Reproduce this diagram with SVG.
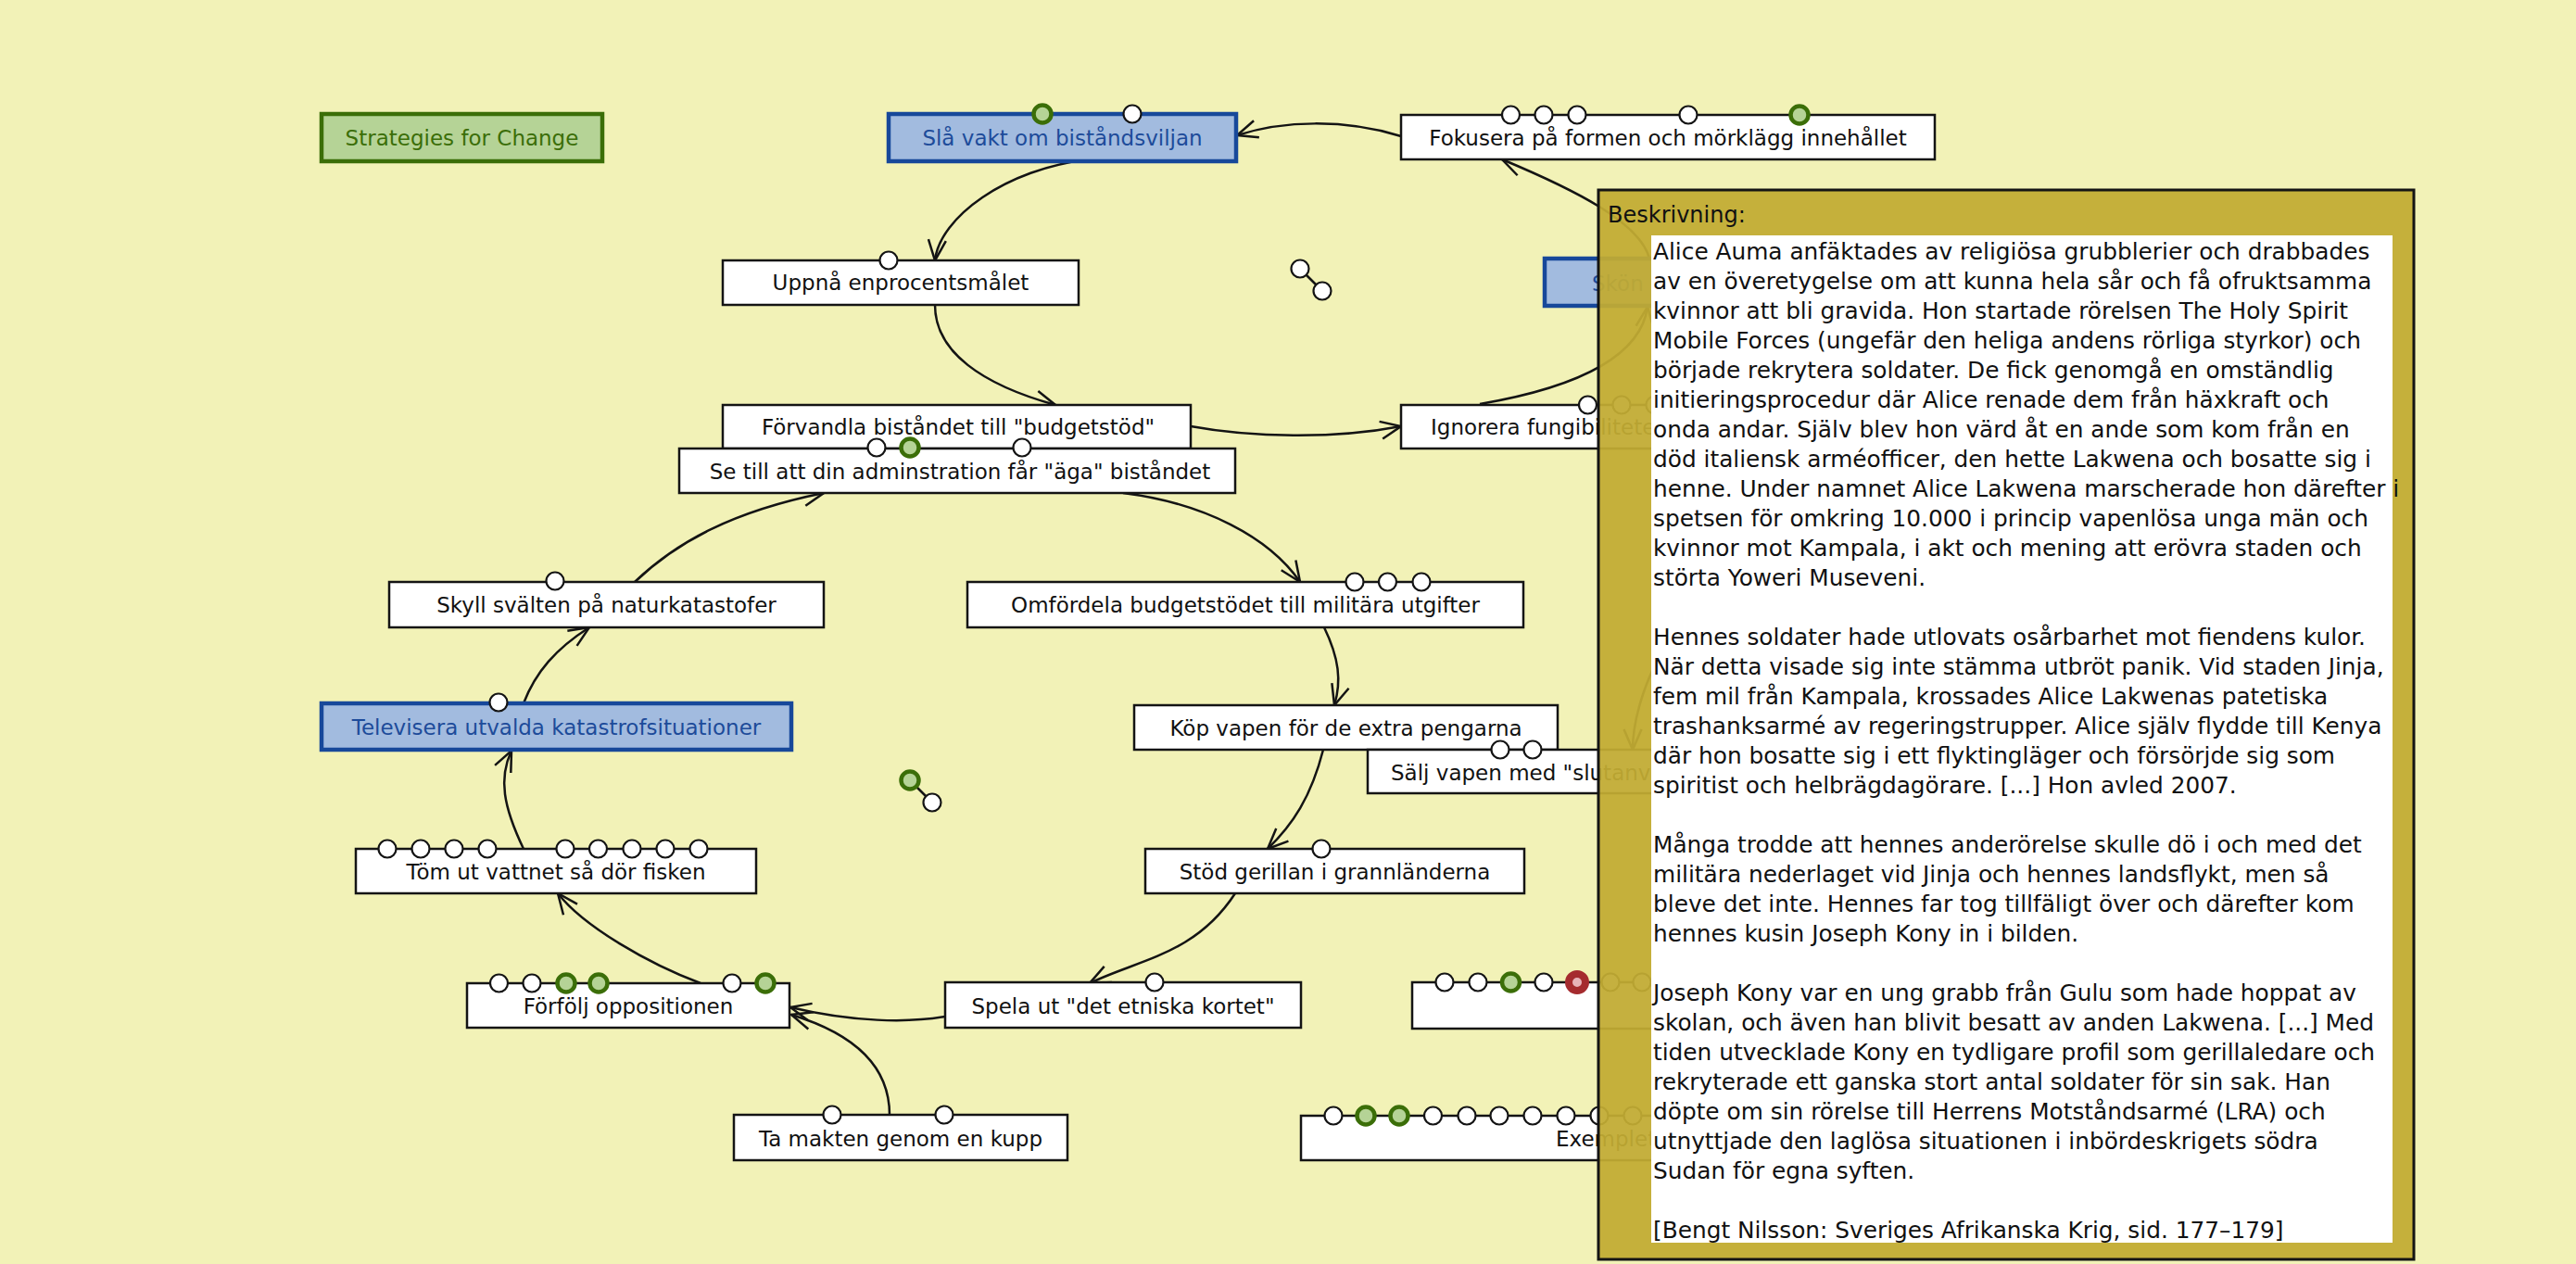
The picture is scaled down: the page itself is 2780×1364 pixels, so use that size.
<svg xmlns="http://www.w3.org/2000/svg" width="2780" height="1364" viewBox="0 0 2780 1364">
<defs>
<style>
.bg{fill:#f2f2b7}
.box{fill:#ffffff;stroke:#141414;stroke-width:2.5}
.gbox{fill:#b5d396;stroke:#3b6e08;stroke-width:4.5}
.bbox{fill:#a2bbdf;stroke:#17489a;stroke-width:4.5}
.lbl{font-family:"DejaVu Sans","Liberation Sans",sans-serif;font-size:23px;fill:#111;text-anchor:middle}
.glbl{fill:#3b6e08}
.blbl{fill:#1d4b9a}
.cw{fill:#ffffff;stroke:#141414;stroke-width:2.2}
.cg{fill:#b5d396;stroke:#3b6e08;stroke-width:4.5}
.cr{fill:#e7b3b8;stroke:#a52b2e;stroke-width:8}
.edge{fill:none;stroke:#141414;stroke-width:2.5}
.ptxt{font-family:"DejaVu Sans","Liberation Sans",sans-serif;font-size:24.8px;fill:#111}
</style>
<marker id="arr" markerUnits="userSpaceOnUse" markerWidth="30" markerHeight="30" refX="0" refY="0" viewBox="-25 -15 30 30" orient="auto" overflow="visible">
<path d="M-22,-9.5 L0,0 L-22,9.5" fill="none" stroke="#141414" stroke-width="2.5"/>
</marker>
</defs>
<rect class="bg" x="0" y="0" width="2780" height="1364"/>

<g id="connectors">
<path class="edge" marker-end="url(#arr)" d="M1512,147 C1450,128 1385,130 1335,146"/>
<path class="edge" marker-end="url(#arr)" d="M1176,172 C1085,182 1014,235 1009,281"/>
<path class="edge" marker-end="url(#arr)" d="M1009,329 C1009,380 1060,415 1139,437"/>
<path class="edge" marker-end="url(#arr)" d="M1285,460 C1350,472 1440,474 1512,460"/>
<path class="edge" marker-end="url(#arr)" d="M1597,436 C1690,420 1770,390 1778,331"/>
<path class="edge" marker-end="url(#arr)" d="M1780,279 C1770,240 1700,205 1621,172"/>
<path class="edge" marker-end="url(#arr)" d="M1212,532 C1300,543 1370,580 1403,628"/>
<path class="edge" marker-end="url(#arr)" d="M1429,677 C1445,710 1448,735 1440,761"/>
<path class="edge" marker-end="url(#arr)" d="M1800,690 C1780,725 1762,770 1762,809"/>
<path class="edge" marker-end="url(#arr)" d="M1428,809 C1415,860 1395,890 1368,916"/>
<path class="edge" marker-end="url(#arr)" d="M1333,964 C1290,1030 1230,1035 1176,1061"/>
<path class="edge" marker-end="url(#arr)" d="M1020,1097 C980,1104 920,1103 853,1087"/>
<path class="edge" marker-end="url(#arr)" d="M960,1203 C960,1150 920,1115 854,1095"/>
<path class="edge" marker-end="url(#arr)" d="M756,1061 C700,1040 630,1000 602,964"/>
<path class="edge" marker-end="url(#arr)" d="M565,916 C543,870 538,840 552,810"/>
<path class="edge" marker-end="url(#arr)" d="M565,759 C578,725 600,700 636,677"/>
<path class="edge" marker-end="url(#arr)" d="M685,628 C730,585 790,552 889,532"/>
<line class="edge" x1="1403" y1="290" x2="1427" y2="314"/>
<line class="edge" x1="982" y1="842" x2="1006" y2="866"/>
</g>

<g id="node-strategies">
<rect class="gbox" x="347" y="123" width="303" height="51"/>
<text class="lbl glbl" x="498.5" y="157">Strategies for Change</text>
</g>

<g id="node-slavakt">
<rect class="bbox" x="959" y="123" width="375" height="51"/>
<text class="lbl blbl" x="1146.5" y="157">Slå vakt om biståndsviljan</text>
<circle class="cg" cx="1125" cy="123" r="9.5"/>
<circle class="cw" cx="1222" cy="123" r="9.5"/>
</g>

<g id="node-fokusera">
<rect class="box" x="1512" y="124" width="576" height="48"/>
<text class="lbl" x="1800" y="157">Fokusera på formen och mörklägg innehållet</text>
<circle class="cw" cx="1630.5" cy="124" r="9.5"/>
<circle class="cw" cx="1666" cy="124" r="9.5"/>
<circle class="cw" cx="1702" cy="124" r="9.5"/>
<circle class="cw" cx="1822" cy="124" r="9.5"/>
<circle class="cg" cx="1942" cy="124" r="9.5"/>
</g>

<g id="node-uppna">
<rect class="box" x="780" y="281" width="384" height="48"/>
<text class="lbl" x="972" y="313">Uppnå enprocentsmålet</text>
<circle class="cw" cx="959" cy="281" r="9.5"/>
</g>

<g id="node-skon">
<rect class="bbox" x="1667" y="279" width="260" height="51"/>
<text class="lbl blbl" x="1718" y="314" style="text-anchor:start">Skön</text>
</g>

<g id="node-ignorera">
<rect class="box" x="1512" y="437" width="390" height="47"/>
<text class="lbl" x="1544" y="469" style="text-anchor:start">Ignorera  fungibiliteten</text>
<circle class="cw" cx="1713.5" cy="437" r="9.5"/>
<circle class="cw" cx="1750" cy="437" r="9.5"/>
<circle class="cw" cx="1786" cy="437" r="9.5"/>
</g>

<g id="node-forvandla">
<rect class="box" x="780" y="437" width="505" height="47"/>
<text class="lbl" x="1034" y="469">Förvandla biståndet till "budgetstöd"</text>
</g>

<g id="node-setill">
<rect class="box" x="733" y="484" width="600" height="48"/>
<text class="lbl" x="1036" y="517">Se till att din adminstration får "äga" biståndet</text>
<circle class="cw" cx="946" cy="483" r="9.5"/>
<circle class="cg" cx="982" cy="483" r="9.5"/>
<circle class="cw" cx="1103" cy="483" r="9.5"/>
</g>

<g id="node-skyll">
<rect class="box" x="420" y="628" width="469" height="49"/>
<text class="lbl" x="654.5" y="661">Skyll svälten på naturkatastofer</text>
<circle class="cw" cx="599" cy="627" r="9.5"/>
</g>

<g id="node-omfordela">
<rect class="box" x="1044" y="628" width="600" height="49"/>
<text class="lbl" x="1344" y="661">Omfördela budgetstödet till militära utgifter</text>
<circle class="cw" cx="1462" cy="628" r="9.5"/>
<circle class="cw" cx="1497.5" cy="628" r="9.5"/>
<circle class="cw" cx="1534" cy="628" r="9.5"/>
</g>

<g id="node-televisera">
<rect class="bbox" x="347" y="759" width="507" height="50"/>
<text class="lbl blbl" x="600.5" y="793">Televisera utvalda katastrofsituationer</text>
<circle class="cw" cx="538" cy="758" r="9.5"/>
</g>

<g id="node-kop">
<rect class="box" x="1224" y="761" width="457" height="48"/>
<text class="lbl" x="1452.5" y="794">Köp vapen för de extra pengarna</text>
</g>

<g id="node-salj">
<rect class="box" x="1476" y="809" width="430" height="47"/>
<text class="lbl" x="1501" y="842" style="text-anchor:start">Sälj vapen med "slutanvändarintyg"</text>
<circle class="cw" cx="1619" cy="809" r="9.5"/>
<circle class="cw" cx="1654" cy="809" r="9.5"/>
</g>

<g id="node-tomut">
<rect class="box" x="384" y="916" width="432" height="48"/>
<text class="lbl" x="600" y="949">Töm ut vattnet så dör fisken</text>
<circle class="cw" cx="418" cy="916" r="9.5"/>
<circle class="cw" cx="454" cy="916" r="9.5"/>
<circle class="cw" cx="490" cy="916" r="9.5"/>
<circle class="cw" cx="526" cy="916" r="9.5"/>
<circle class="cw" cx="610" cy="916" r="9.5"/>
<circle class="cw" cx="645.5" cy="916" r="9.5"/>
<circle class="cw" cx="682" cy="916" r="9.5"/>
<circle class="cw" cx="718" cy="916" r="9.5"/>
<circle class="cw" cx="754" cy="916" r="9.5"/>
</g>

<g id="node-stod">
<rect class="box" x="1236" y="916" width="409" height="48"/>
<text class="lbl" x="1440.5" y="949">Stöd gerillan i grannländerna</text>
<circle class="cw" cx="1426" cy="916" r="9.5"/>
</g>

<g id="node-forfolj">
<rect class="box" x="504" y="1061" width="348" height="48"/>
<text class="lbl" x="678" y="1094">Förfölj oppositionen</text>
<circle class="cw" cx="538.5" cy="1061" r="9.5"/>
<circle class="cw" cx="574" cy="1061" r="9.5"/>
<circle class="cg" cx="611" cy="1061" r="9.5"/>
<circle class="cg" cx="646" cy="1061" r="9.5"/>
<circle class="cw" cx="790" cy="1061" r="9.5"/>
<circle class="cg" cx="826" cy="1061" r="9.5"/>
</g>

<g id="node-spela">
<rect class="box" x="1020" y="1060" width="384" height="49"/>
<text class="lbl" x="1212" y="1094">Spela ut "det etniska kortet"</text>
<circle class="cw" cx="1246" cy="1060" r="9.5"/>
</g>

<g id="node-lower1">
<rect class="box" x="1524" y="1060" width="380" height="50"/>
<circle class="cw" cx="1559" cy="1060" r="9.5"/>
<circle class="cw" cx="1595" cy="1060" r="9.5"/>
<circle class="cg" cx="1630.5" cy="1060" r="9.5"/>
<circle class="cw" cx="1666" cy="1060" r="9.5"/>
<circle class="cr" cx="1702" cy="1060" r="9"/>
<circle class="cw" cx="1738" cy="1060" r="9.5"/>
<circle class="cw" cx="1772" cy="1060" r="9.5"/>
</g>

<g id="node-tamakten">
<rect class="box" x="792" y="1203" width="360" height="49"/>
<text class="lbl" x="972" y="1237">Ta makten genom en kupp</text>
<circle class="cw" cx="898" cy="1203" r="9.5"/>
<circle class="cw" cx="1019" cy="1203" r="9.5"/>
</g>

<g id="node-exempel">
<rect class="box" x="1404" y="1204" width="600" height="48"/>
<text class="lbl" x="1679" y="1237" style="text-anchor:start">Exemplet</text>
<circle class="cw" cx="1439" cy="1204" r="9.5"/>
<circle class="cg" cx="1474" cy="1204" r="9.5"/>
<circle class="cg" cx="1510" cy="1204" r="9.5"/>
<circle class="cw" cx="1546.5" cy="1204" r="9.5"/>
<circle class="cw" cx="1583" cy="1204" r="9.5"/>
<circle class="cw" cx="1618" cy="1204" r="9.5"/>
<circle class="cw" cx="1654" cy="1204" r="9.5"/>
<circle class="cw" cx="1690" cy="1204" r="9.5"/>
<circle class="cw" cx="1726" cy="1204" r="9.5"/>
<circle class="cw" cx="1762" cy="1204" r="9.5"/>
</g>

<g id="node-float1">
<circle class="cw" cx="1403" cy="290" r="9.5"/>
<circle class="cw" cx="1427" cy="314" r="9.5"/>
</g>
<g id="node-float2">
<circle class="cg" cx="982" cy="842" r="9.5"/>
<circle class="cw" cx="1006" cy="866" r="9.5"/>
</g>

<g id="panel-beskrivning">
<rect x="1725" y="205" width="880" height="1154" fill="#c1ab33" fill-opacity="0.94" stroke="#141414" stroke-width="3"/>
<text class="ptxt" x="1735" y="240" style="font-size:24px">Beskrivning:</text>
<rect x="1782" y="254" width="800" height="1087" fill="#ffffff"/>
<text class="ptxt">
<tspan x="1784" y="280">Alice Auma anfäktades av religiösa grubblerier och drabbades</tspan>
<tspan x="1784" y="312">av en överetygelse om att kunna hela sår och få ofruktsamma</tspan>
<tspan x="1784" y="344">kvinnor att bli gravida. Hon startade rörelsen The Holy Spirit</tspan>
<tspan x="1784" y="376">Mobile Forces (ungefär den heliga andens rörliga styrkor) och</tspan>
<tspan x="1784" y="408">började rekrytera soldater. De fick genomgå en omständlig</tspan>
<tspan x="1784" y="440">initieringsprocedur där Alice renade dem från häxkraft och</tspan>
<tspan x="1784" y="472">onda andar. Själv blev hon värd åt en ande som kom från en</tspan>
<tspan x="1784" y="504">död italiensk arméofficer, den hette Lakwena och bosatte sig i</tspan>
<tspan x="1784" y="536">henne. Under namnet Alice Lakwena marscherade hon därefter i</tspan>
<tspan x="1784" y="568">spetsen för omkring 10.000 i princip vapenlösa unga män och</tspan>
<tspan x="1784" y="600">kvinnor mot Kampala, i akt och mening att erövra staden och</tspan>
<tspan x="1784" y="632">störta Yoweri Museveni.</tspan>
<tspan x="1784" y="696">Hennes soldater hade utlovats osårbarhet mot fiendens kulor.</tspan>
<tspan x="1784" y="728">När detta visade sig inte stämma utbröt panik. Vid staden Jinja,</tspan>
<tspan x="1784" y="760">fem mil från Kampala, krossades Alice Lakwenas patetiska</tspan>
<tspan x="1784" y="792">trashanksarmé av regeringstrupper. Alice själv flydde till Kenya</tspan>
<tspan x="1784" y="824">där hon bosatte sig i ett flyktingläger och försörjde sig som</tspan>
<tspan x="1784" y="856">spiritist och helbrägdagörare. [...] Hon avled 2007.</tspan>
<tspan x="1784" y="920">Många trodde att hennes anderörelse skulle dö i och med det</tspan>
<tspan x="1784" y="952">militära nederlaget vid Jinja och hennes landsflykt, men så</tspan>
<tspan x="1784" y="984">bleve det inte. Hennes far tog tillfäligt över och därefter kom</tspan>
<tspan x="1784" y="1016">hennes kusin Joseph Kony in i bilden.</tspan>
<tspan x="1784" y="1080">Joseph Kony var en ung grabb från Gulu som hade hoppat av</tspan>
<tspan x="1784" y="1112">skolan, och även han blivit besatt av anden Lakwena. [...] Med</tspan>
<tspan x="1784" y="1144">tiden utvecklade Kony en tydligare profil som gerillaledare och</tspan>
<tspan x="1784" y="1176">rekryterade ett ganska stort antal soldater för sin sak. Han</tspan>
<tspan x="1784" y="1208">döpte om sin rörelse till Herrens Motståndsarmé (LRA) och</tspan>
<tspan x="1784" y="1240">utnyttjade den laglösa situationen i inbördeskrigets södra</tspan>
<tspan x="1784" y="1272">Sudan för egna syften.</tspan>
<tspan x="1784" y="1336">[Bengt Nilsson: Sveriges Afrikanska Krig, sid. 177–179]</tspan>
</text>
</g>
</svg>
